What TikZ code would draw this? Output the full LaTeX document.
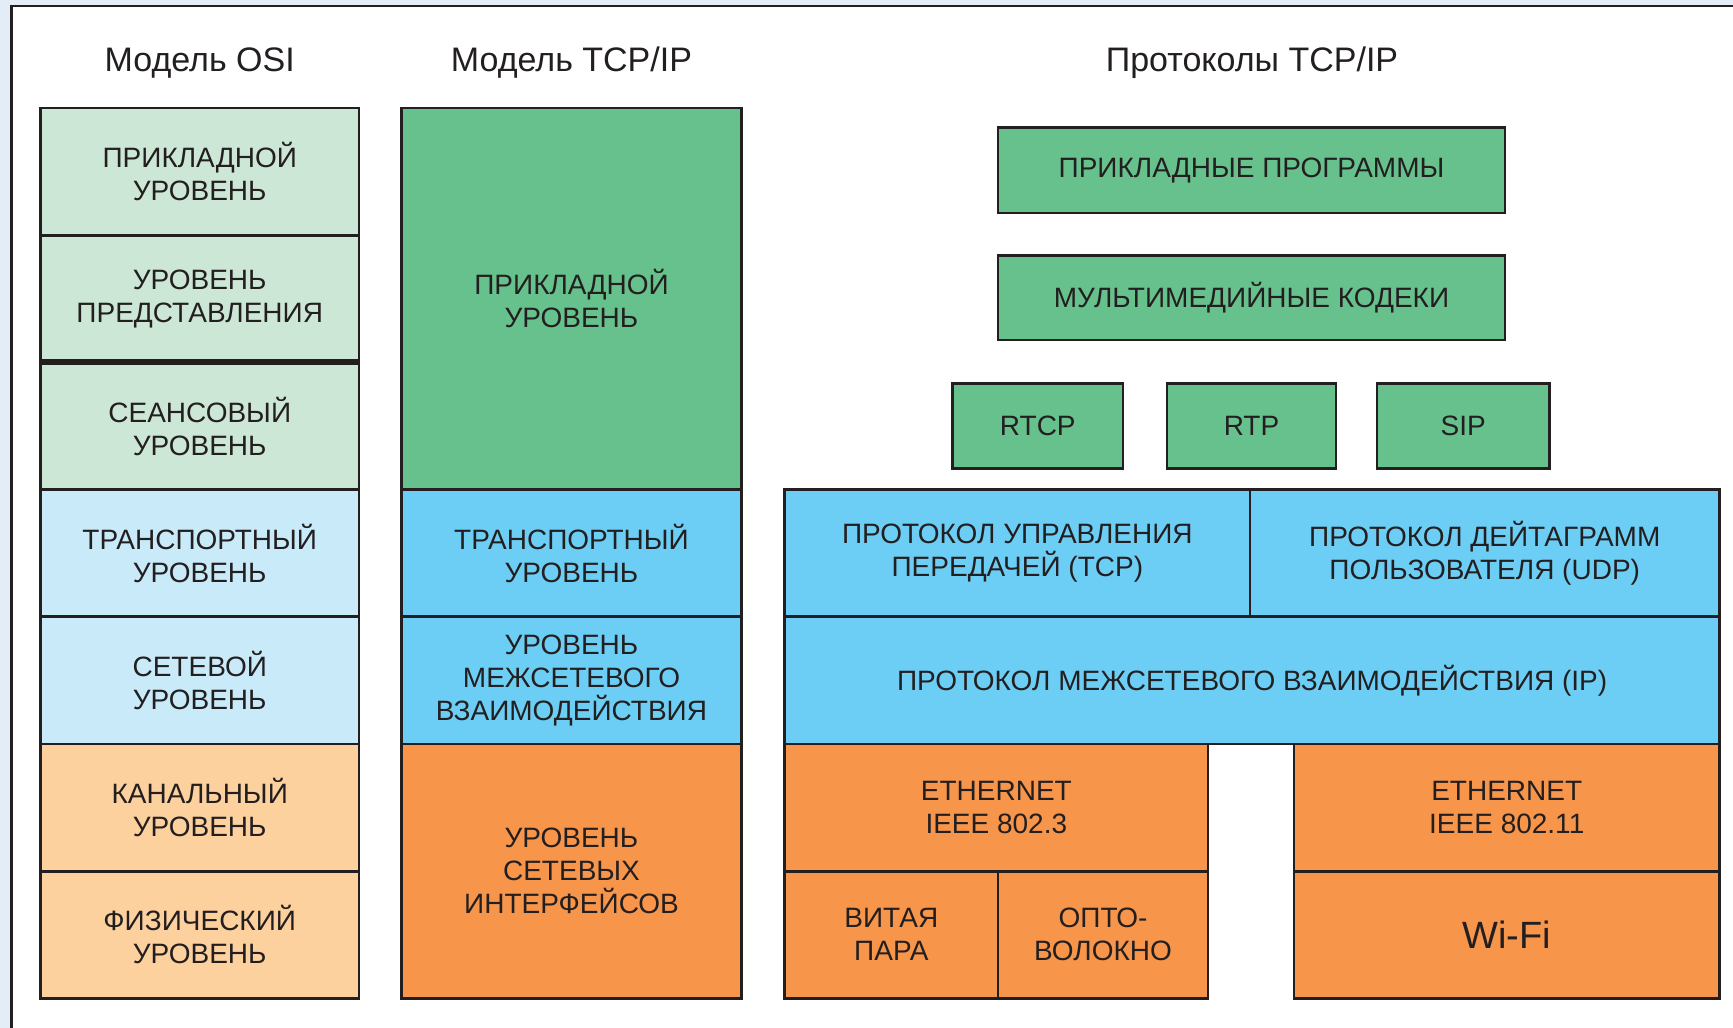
\documentclass[tikz,border=0pt]{standalone}
\usepackage{fontspec}
\setmainfont{Liberation Sans}
\usepackage{xcolor}
\definecolor{hline}{RGB}{35,31,32}
\definecolor{hback}{RGB}{226,237,246}
\definecolor{osig}{RGB}{205,231,214}
\definecolor{osib}{RGB}{200,234,249}
\definecolor{osio}{RGB}{253,209,158}
\definecolor{hgreen}{RGB}{103,193,141}
\definecolor{hblue}{RGB}{108,206,245}
\definecolor{horange}{RGB}{247,149,74}
\tikzset{
  lay/.style={draw=hline, line width=2.7pt, text=hline, align=center, inner sep=0pt, outer sep=0pt,
    font=\fontsize{28}{33}\selectfont},
  ttl/.style={anchor=base, text=hline, font=\fontsize{34}{40}\selectfont},
}

\begin{document}
\begin{tikzpicture}[x=1pt,y=-1pt]
\useasboundingbox (0,0) rectangle (1733,1028);
\fill[hback] (0,0) rectangle (1733,1028);
\begin{scope}
\clip (0,0) rectangle (1733,1028);
\draw[hline, line width=2.5pt, fill=white] (11.5,6) rectangle (1760,1060);
\end{scope}
% titles
\node[ttl] (t1) at (199.75,71) {Модель OSI};
\node[ttl] (t2) at (571.5,71) {Модель TCP/IP};
\node[ttl] (t3) at (1252,71) {Протоколы TCP/IP};
% OSI model
\node[lay, fill=osig, minimum width=318.5, minimum height=127.2] (osi1) at (199.75,171.6) {ПРИКЛАДНОЙ\\УРОВЕНЬ};
\node[lay, fill=osig, minimum width=318.5, minimum height=127.2] (osi2) at (199.75,298.8) {УРОВЕНЬ\\ПРЕДСТАВЛЕНИЯ};
\node[lay, fill=osig, minimum width=318.5, minimum height=127.2] (osi3) at (199.75,426) {СЕАНСОВЫЙ\\УРОВЕНЬ};
\node[lay, fill=osib, minimum width=318.5, minimum height=127.2] (osi4) at (199.75,553.2) {ТРАНСПОРТНЫЙ\\УРОВЕНЬ};
\node[lay, fill=osib, minimum width=318.5, minimum height=127.2] (osi5) at (199.75,680.4) {СЕТЕВОЙ\\УРОВЕНЬ};
\node[lay, fill=osio, minimum width=318.5, minimum height=127.2] (osi6) at (199.75,807.6) {КАНАЛЬНЫЙ\\УРОВЕНЬ};
\node[lay, fill=osio, minimum width=318.5, minimum height=127.2] (osi7) at (199.75,934.8) {ФИЗИЧЕСКИЙ\\УРОВЕНЬ};
\draw[hline, line width=6pt, shorten <=-1.35pt, shorten >=-1.35pt] (osi2.south west) -- (osi2.south east);
% TCP/IP model
\node[lay, fill=hgreen, minimum width=340, minimum height=381.6] (tm1) at (571.5,298.8) {ПРИКЛАДНОЙ\\УРОВЕНЬ};
\node[lay, fill=hblue, minimum width=340, minimum height=127.2] (tm2) at (571.5,553.2) {ТРАНСПОРТНЫЙ\\УРОВЕНЬ};
\node[lay, fill=hblue, minimum width=340, minimum height=127.2] (tm3) at (571.5,680.4) {УРОВЕНЬ\\МЕЖСЕТЕВОГО\\ВЗАИМОДЕЙСТВИЯ};
\node[lay, fill=horange, minimum width=340, minimum height=254.4] (tm4) at (571.5,871.2) {УРОВЕНЬ\\СЕТЕВЫХ\\ИНТЕРФЕЙСОВ};
% protocols
\node[lay, fill=hgreen, minimum width=507, minimum height=85.5] (apps) at (1251.5,170.25) {ПРИКЛАДНЫЕ ПРОГРАММЫ};
\node[lay, fill=hgreen, minimum width=507, minimum height=84.5] (codec) at (1251.5,297.75) {МУЛЬТИМЕДИЙНЫЕ КОДЕКИ};
\node[lay, fill=hgreen, minimum width=170.2, minimum height=85] (rtcp) at (1037.8,426) {RTCP};
\node[lay, fill=hgreen, minimum width=169, minimum height=85] (rtp) at (1251.5,426) {RTP};
\node[lay, fill=hgreen, minimum width=172.5, minimum height=85] (sip) at (1463.3,426) {SIP};
\node[lay, fill=hblue, minimum width=465.3, minimum height=127.2] (tcp) at (1017.35,553.2) {ПРОТОКОЛ УПРАВЛЕНИЯ\\ПЕРЕДАЧЕЙ (TCP)};
\node[lay, fill=hblue, minimum width=469.5, minimum height=127.2] (udp) at (1484.75,553.2) {ПРОТОКОЛ ДЕЙТАГРАММ\\ПОЛЬЗОВАТЕЛЯ (UDP)};
\node[lay, fill=hblue, minimum width=934.8, minimum height=127.2] (ip) at (1252.1,680.4) {ПРОТОКОЛ МЕЖСЕТЕВОГО ВЗАИМОДЕЙСТВИЯ (IP)};
\node[lay, fill=horange, minimum width=423.3, minimum height=127.2] (eth1) at (996.35,807.6) {ETHERNET\\IEEE 802.3};
\node[lay, fill=horange, minimum width=213.3, minimum height=127.2] (pair) at (891.35,934.8) {ВИТАЯ\\ПАРА};
\node[lay, fill=horange, minimum width=210, minimum height=127.2] (fiber) at (1103,934.8) {ОПТО-\\ВОЛОКНО};
\node[lay, fill=horange, minimum width=425.5, minimum height=127.2] (eth2) at (1506.75,807.6) {ETHERNET\\IEEE 802.11};
\node[lay, fill=horange, minimum width=425.5, minimum height=127.2, font=\fontsize{38}{44}\selectfont] (wifi) at (1506.75,934.8) {Wi-Fi};
\end{tikzpicture}
\end{document}
